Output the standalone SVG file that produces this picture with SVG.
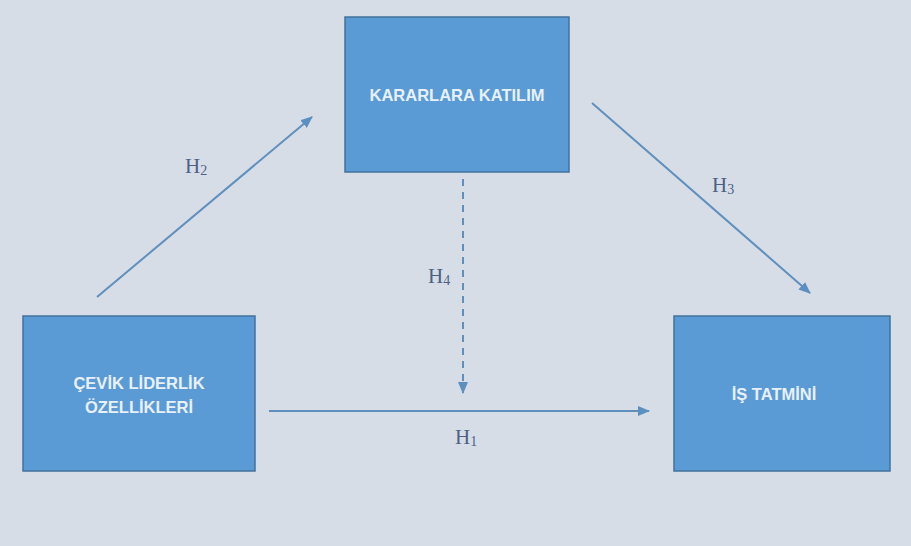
<svg xmlns="http://www.w3.org/2000/svg" width="911" height="546" viewBox="0 0 911 546">
<defs>
<style>
.box{fill:#5b9bd5;stroke:#41719c;stroke-width:1.5}
.bt{font-family:"Liberation Sans",Arial,sans-serif;font-weight:bold;font-size:16.5px;fill:#e8f0f8;text-anchor:middle}
.lbl{font-family:"Liberation Serif","Times New Roman",serif;font-size:21px;fill:#4d6187}
.sub{font-size:14px}
.con{stroke:#5f8fbd;stroke-width:2;fill:none}
</style>
<marker id="ah" viewBox="0 0 12 10" refX="11" refY="5" markerWidth="12" markerHeight="10" markerUnits="userSpaceOnUse" orient="auto">
<path d="M0,0 L12,5 L0,10 Z" fill="#5b8fc0"/>
</marker>
</defs>
<rect x="0" y="0" width="911" height="546" fill="#d7dde6"/>
<g id="connectors">
<line class="con" x1="97" y1="297" x2="312" y2="117" marker-end="url(#ah)"/>
<line class="con" x1="592" y1="103" x2="810" y2="293" marker-end="url(#ah)"/>
<line class="con" x1="463" y1="179" x2="463" y2="393" stroke-dasharray="7,6" marker-end="url(#ah)"/>
<line class="con" x1="269" y1="411" x2="649" y2="411" marker-end="url(#ah)"/>
<text class="lbl" x="185" y="173">H<tspan class="sub" dy="2">2</tspan></text>
<text class="lbl" x="712" y="192">H<tspan class="sub" dy="2">3</tspan></text>
<text class="lbl" x="428" y="283">H<tspan class="sub" dy="2">4</tspan></text>
<text class="lbl" x="455" y="444">H<tspan class="sub" dy="2">1</tspan></text>
</g>
<g id="node-kararlara">
<rect class="box" x="345" y="17" width="224" height="155"/>
<text class="bt" x="457" y="101">KARARLARA KATILIM</text>
</g>
<g id="node-cevik">
<rect class="box" x="23" y="316" width="232" height="155"/>
<text class="bt" x="139" y="389">ÇEVİK LİDERLİK</text>
<text class="bt" x="139" y="413">ÖZELLİKLERİ</text>
</g>
<g id="node-is">
<rect class="box" x="674" y="316" width="216" height="155"/>
<text class="bt" x="774" y="400">İŞ TATMİNİ</text>
</g>
</svg>
